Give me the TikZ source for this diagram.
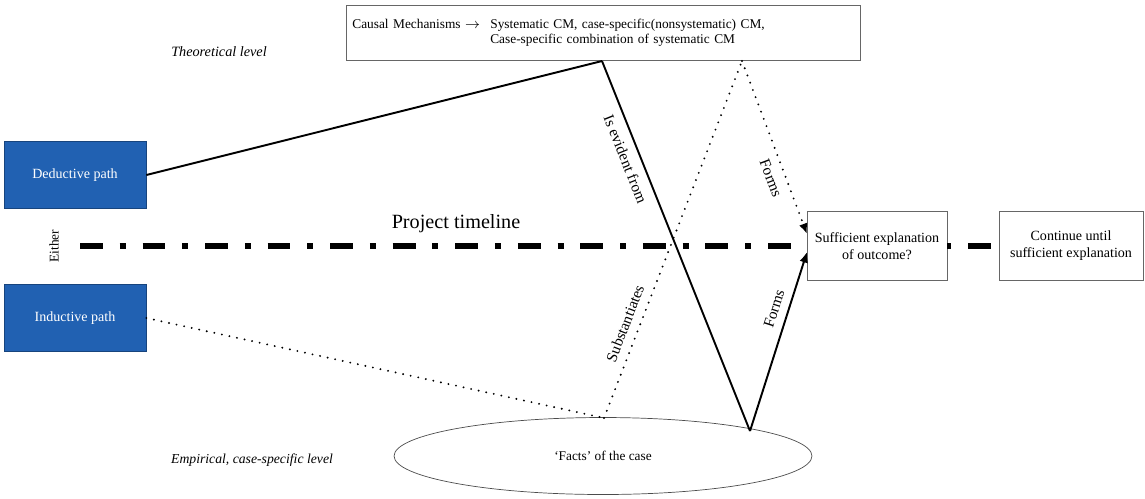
\documentclass[tikz,border=0pt]{standalone}
\usepackage{fontspec}
\setmainfont{Liberation Serif}
\usepackage{tikz}
\usetikzlibrary{arrows.meta,shapes,backgrounds,calc}

\definecolor{pathblue}{RGB}{33,97,178}

\tikzset{
  txt/.style={font=\fontsize{7.6}{9}\selectfont},
  boxtxt/.style={font=\fontsize{8}{9.6}\selectfont},
  pathbox/.style={boxtxt, draw=pathblue!70!black, fill=pathblue, text=white,
    minimum width=2.84cm, minimum height=1.33cm, inner sep=0pt},
  whitebox/.style={boxtxt, draw=black!60, align=center, inner sep=0pt,
    minimum height=1.38cm},
  solidline/.style={line width=1.1pt},
  dotline/.style={line width=1.2pt, line cap=round, dash pattern=on 0pt off 4.4pt},
  timeline/.style={line width=3.4pt, dash pattern=on 13pt off 9.6pt on 3.4pt off 9.6pt},
  tip/.style={-{Latex[length=6pt,width=5pt]}},
  lbl/.style={font=\fontsize{8.7}{10}\selectfont, sloped, inner sep=4.6pt}
}

\begin{document}
\begin{tikzpicture}[x=0.02cm,y=-0.02cm]
    \useasboundingbox (0,0) rectangle (1145,498);
    % Boxes
    \node (mech) [txt, draw=black!60, anchor=north west, minimum width=10.28cm,
      minimum height=1.1cm, text width=10.04cm, inner xsep=0.12cm, inner ysep=0pt,
      align=left] at (346,5)
      {\begin{tabular}{@{}p{2.76cm}@{}l@{}}
        Causal Mechanisms $\rightarrow$ & Systematic CM, case-specific(nonsystematic) CM,\\
        & Case-specific combination of systematic CM
      \end{tabular}};
    \node (deduct) [pathbox] at (75,175) {Deductive path};
    \node (induct) [pathbox] at (75,318) {Inductive path};
    \node (suff) [whitebox, minimum width=2.8cm] at (877,246)
      {Sufficient explanation\\of outcome?};
    \node (cont) [whitebox, minimum width=2.88cm] at (1071,246)
      {Continue until\\sufficient explanation};
    \node (facts) [txt, draw=black!70, ellipse, minimum width=8.36cm,
      minimum height=1.54cm, inner sep=0pt] at (603,456) {`Facts' of the case};
    % Levels and labels
    \node (theo) [font=\fontsize{8.1}{9.6}\itshape] at (219,52) {Theoretical level};
    \node (emp) [font=\fontsize{7.8}{9.6}\itshape] at (252,460) {Empirical, case-specific level};
    \node (either) [txt, rotate=90] at (54,246) {Either};
    \node (ptl) [font=\fontsize{11.5}{13}\selectfont] at (456,224) {Project timeline};
    % Turning points
    \coordinate (mechA) at (602,61);
    \coordinate (mechB) at (742,61);
    \coordinate (factsA) at (604,418);
    \coordinate (factsB) at (750,431);
    \coordinate (tlStart) at (80,246);
    \coordinate (suffUp) at (807,234);
    \coordinate (suffDn) at (807,252);
    % Project timeline
    \draw [timeline] (tlStart) -- (suff.west);
    \draw [timeline, dash phase=23.8pt] (suff.east) -- (cont.west);
    % Deductive route
    \draw [solidline] (deduct.east) -- (mechA);
    \draw [solidline] (mechA) -- node[lbl, pos=0.25, below] {Is evident from} (factsB);
    \draw [solidline, tip] (factsB) -- node[lbl, pos=0.66, above] {Forms} (suffDn);
    % Inductive route
    \draw [dotline] (induct.east) -- (factsA);
    \draw [dotline] (factsA) -- node[lbl, pos=0.25, above] {Substantiates} (mechB);
    \draw [dotline, tip] (mechB) -- node[lbl, pos=0.65, below] {Forms} (suffUp);
\end{tikzpicture}
\end{document}
